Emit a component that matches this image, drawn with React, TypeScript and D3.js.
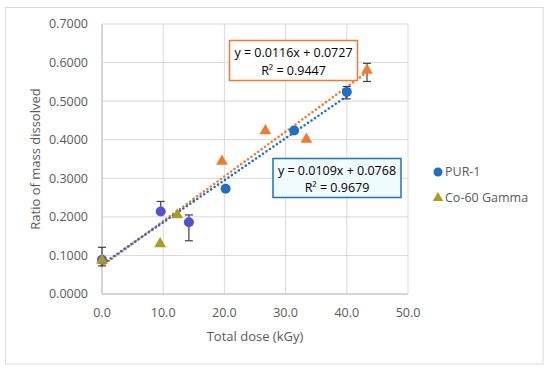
import React from 'react';
import * as d3 from 'd3';

// PUR-1 reactor irradiation
const purDose = [0, 9.6, 14.2, 20.2, 31.4, 40.0];
const purRatio = [0.089, 0.214, 0.186, 0.273, 0.424, 0.524];
const purErrUp = [0.032, 0.026, 0.019, 0, 0, 0.014];
const purErrDown = [0.016, 0, 0.048, 0, 0, 0.018];

// Co-60 gamma irradiation
const coDose = [0, 9.5, 12.3, 19.6, 26.7, 33.4, 43.3];
const coRatio = [0.087, 0.130, 0.205, 0.344, 0.423, 0.401, 0.580];
const coErrUp = [0, 0, 0, 0, 0, 0, 0.018];
const coErrDown = [0, 0, 0, 0, 0, 0, 0.029];

const xTicks = [0, 10, 20, 30, 40, 50];
const yTicks = [0, 0.1, 0.2, 0.3, 0.4, 0.5, 0.6, 0.7];

// linear trendlines as given by the spreadsheet
const purFit = { slope: 0.0109, intercept: 0.0768, eq: 'y = 0.0109x + 0.0768', r2: 'R² = 0.9679' };
const coFit = { slope: 0.0116, intercept: 0.0727, eq: 'y = 0.0116x + 0.0727', r2: 'R² = 0.9447' };

const BLUE = '#1f6fc6';
const PURPLE = '#5252d0';
const ORANGE = '#f07a2e';
const OLIVE = '#a89e22';
const TXT = '#595959';
const GRID = '#d9d9d9';
const FONT = "'Open Sans', sans-serif";
const SPLIT = 15; // below this dose the marks are drawn in the alternate hue

const App: React.FC = () => {
  const margin = { left: 102, right: 142, top: 24, bottom: 77 };
  const width = 550;
  const height = 371;
  const x = d3.scaleLinear().domain([0, 50]).range([margin.left, width - margin.right]);
  const y = d3.scaleLinear().domain([0, 0.7]).range([height - margin.bottom, margin.top]);

  const tri = d3.symbol().type(d3.symbolTriangle).size(60)();
  const triSmall = d3.symbol().type(d3.symbolTriangle).size(48)();

  const fitLine = (fit: typeof purFit, x0: number, x1: number, color: string, key: string, offset = 0) => (
    <line
      key={key}
      x1={x(x0)} y1={y(fit.slope * x0 + fit.intercept)}
      x2={x(x1)} y2={y(fit.slope * x1 + fit.intercept)}
      stroke={color} strokeWidth={2.6} strokeDasharray="0 4.2" strokeDashoffset={offset} strokeLinecap="round"
    />
  );

  const errBar = (xv: number, yv: number, up: number, down: number, key: string) => {
    if (!up && !down) return null;
    const cx = x(xv);
    return (
      <g key={key} stroke="#404040" strokeWidth={1.2}>
        <line x1={cx} x2={cx} y1={y(yv + up)} y2={y(yv - down)} />
        {up > 0 && <line x1={cx - 4} x2={cx + 4} y1={y(yv + up)} y2={y(yv + up)} />}
        {down > 0 && <line x1={cx - 4} x2={cx + 4} y1={y(yv - down)} y2={y(yv - down)} />}
      </g>
    );
  };

  const purMax = d3.max(purDose) as number;
  const coMax = d3.max(coDose) as number;

  return (
    <svg width={width} height={height} style={{ position: 'absolute', left: 0, top: 0, background: '#fff' }} fontFamily={FONT}>
      <rect x={5.5} y={7.5} width={537.5} height={356.5} fill="#fff" stroke={GRID} />

      {/* grid */}
      {yTicks.map(t => (
        <line key={'gy' + t} x1={x(0)} x2={x(50)} y1={y(t)} y2={y(t)} stroke={GRID} />
      ))}
      {xTicks.map(t => (
        <line key={'gx' + t} x1={x(t)} x2={x(t)} y1={y(0)} y2={y(0.7)} stroke={GRID} />
      ))}
      <line x1={x(0)} x2={x(0)} y1={y(0)} y2={y(0.7)} stroke="#bfbfbf" />
      <line x1={x(0)} x2={x(50)} y1={y(0)} y2={y(0)} stroke="#bfbfbf" />

      {/* tick labels */}
      {yTicks.map(t => (
        <text key={'ty' + t} x={x(0) - 14} y={y(t)} dy="0.35em" textAnchor="end" fontSize={12.5} fill={TXT}>
          {d3.format('.4f')(t)}
        </text>
      ))}
      {xTicks.map(t => (
        <text key={'tx' + t} x={x(t)} y={y(0) + 23} textAnchor="middle" fontSize={12.5} fill={TXT}>
          {d3.format('.1f')(t)}
        </text>
      ))}

      <text x={(x(0) + x(50)) / 2} y={341} textAnchor="middle" fontSize={13} fill={TXT}>Total dose (kGy)</text>
      <text transform={`translate(40,${(y(0) + y(0.7)) / 2}) rotate(-90)`} textAnchor="middle" fontSize={13} fill={TXT}>
        Ratio of mass dissolved
      </text>

      {/* trendlines */}
      {fitLine(coFit, SPLIT, coMax, ORANGE, 'co-hi')}
      {fitLine(purFit, SPLIT, purMax, BLUE, 'pur-hi')}
      {fitLine(coFit, 0, SPLIT, OLIVE, 'co-lo')}
      {fitLine(purFit, 0, SPLIT, PURPLE, 'pur-lo', 2.1)}

      {/* error bars */}
      {purDose.map((d, i) => errBar(d, purRatio[i], purErrUp[i], purErrDown[i], 'pe' + i))}
      {coDose.map((d, i) => errBar(d, coRatio[i], coErrUp[i], coErrDown[i], 'ce' + i))}

      {/* markers */}
      {purDose.map((d, i) => (
        <circle key={'pc' + i} cx={x(d)} cy={y(purRatio[i])} r={5} fill={d < SPLIT ? PURPLE : BLUE} />
      ))}
      {coDose.map((d, i) => (
        <path key={'ct' + i} d={tri} transform={`translate(${x(d)},${y(coRatio[i])})`} fill={d < SPLIT ? OLIVE : ORANGE} />
      ))}

      {/* trendline labels */}
      <g>
        <rect x={229.5} y={40.5} width={128} height={40} fill="#fff" stroke={ORANGE} strokeWidth={1.5} />
        <text x={293.5} y={57} textAnchor="middle" fontSize={12.5} fill="#000">{coFit.eq}</text>
        <text x={293.5} y={75} textAnchor="middle" fontSize={12.5} fill="#000">{coFit.r2}</text>
      </g>
      <g>
        <rect x={273} y={158.5} width={128} height={39} fill="#f0fbfd" stroke={BLUE} strokeWidth={1.5} />
        <text x={337} y={175} textAnchor="middle" fontSize={12.5} fill="#000">{purFit.eq}</text>
        <text x={337} y={192} textAnchor="middle" fontSize={12.5} fill="#000">{purFit.r2}</text>
      </g>

      {/* legend */}
      <circle cx={438} cy={172} r={4.5} fill={BLUE} />
      <text x={445} y={172} dy="0.35em" fontSize={12.5} fill={TXT}>PUR-1</text>
      <path d={triSmall} transform="translate(438,198)" fill={OLIVE} />
      <text x={445} y={198} dy="0.35em" fontSize={12.5} fill={TXT}>Co-60 Gamma</text>
    </svg>
  );
};

export default App;
